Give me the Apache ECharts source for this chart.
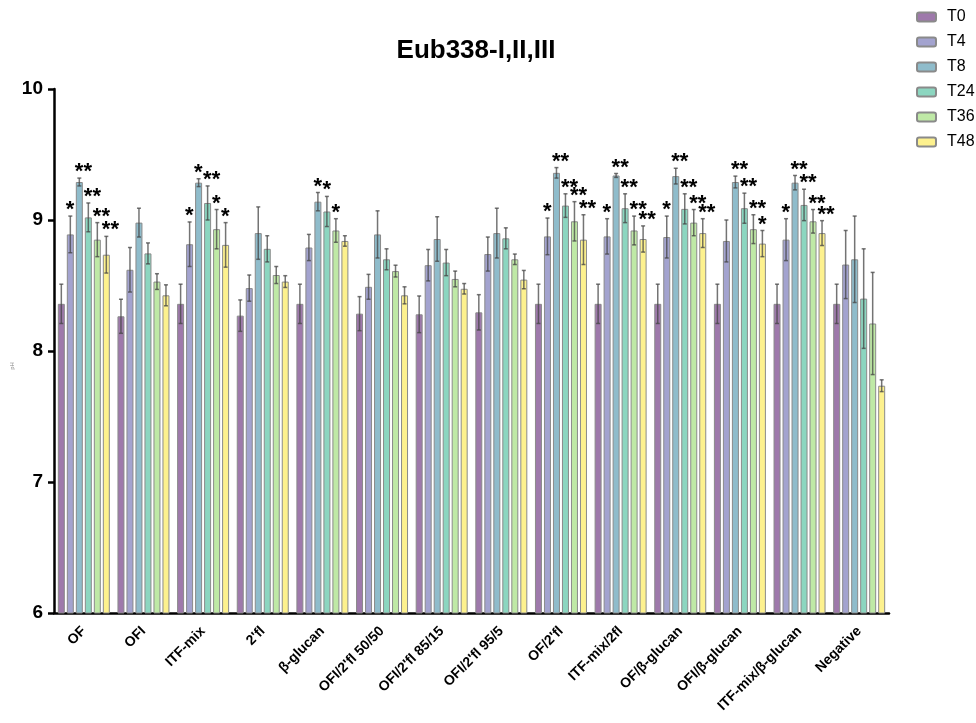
<!DOCTYPE html>
<html>
<head>
<meta charset="utf-8">
<script src="https://cdn.jsdelivr.net/npm/echarts@6/dist/echarts.min.js"></script>
<style>
  html, body { margin: 0; padding: 0; background: #fff; }
  #chart { width: 976px; height: 723px; }
</style>
</head>
<body>
<div id="chart"></div>
<script>
// Group names along the x axis
const categories = ['OF', 'OFI', 'ITF-mix', "2'fl", 'β-glucan', "OFI/2'fl 50/50", "OFI/2'fl 85/15",
  "OFI/2'fl 95/5", "OF/2'fl", 'ITF-mix/2fl', 'OF/β-glucan', 'OFI/β-glucan', 'ITF-mix/β-glucan', 'Negative'];

// Time points
const timeNames = ['T0', 'T4', 'T8', 'T24', 'T36', 'T48'];

// Means per time point
const t0 = [8.36, 8.265, 8.36, 8.27, 8.36, 8.285, 8.28, 8.295, 8.36, 8.36, 8.36, 8.36, 8.36, 8.36];
const t4 = [8.89, 8.62, 8.815, 8.48, 8.79, 8.49, 8.655, 8.74, 8.875, 8.875, 8.87, 8.84, 8.85, 8.66];
const t8 = [9.29, 8.98, 9.285, 8.90, 9.14, 8.89, 8.855, 8.90, 9.36, 9.34, 9.335, 9.29, 9.285, 8.70];
const t24 = [9.02, 8.745, 9.13, 8.78, 9.065, 8.70, 8.675, 8.86, 9.11, 9.09, 9.085, 9.09, 9.115, 8.40];
const t36 = [8.85, 8.53, 8.93, 8.58, 8.92, 8.61, 8.55, 8.70, 8.99, 8.92, 8.98, 8.93, 8.99, 8.21];
const t48 = [8.735, 8.425, 8.81, 8.53, 8.84, 8.425, 8.475, 8.545, 8.85, 8.855, 8.90, 8.82, 8.90, 7.735];

// Standard deviations per time point
const t0Err = [0.15, 0.13, 0.15, 0.12, 0.15, 0.13, 0.14, 0.135, 0.15, 0.15, 0.15, 0.15, 0.15, 0.15];
const t4Err = [0.14, 0.17, 0.17, 0.10, 0.10, 0.095, 0.12, 0.13, 0.14, 0.135, 0.16, 0.16, 0.16, 0.26];
const t8Err = [0.03, 0.11, 0.03, 0.20, 0.07, 0.18, 0.17, 0.19, 0.04, 0.015, 0.06, 0.045, 0.055, 0.33];
const t24Err = [0.11, 0.08, 0.13, 0.10, 0.115, 0.08, 0.10, 0.08, 0.09, 0.11, 0.115, 0.115, 0.12, 0.38];
const t36Err = [0.13, 0.06, 0.15, 0.065, 0.09, 0.045, 0.06, 0.04, 0.15, 0.11, 0.10, 0.11, 0.09, 0.39];
const t48Err = [0.14, 0.08, 0.17, 0.045, 0.04, 0.065, 0.04, 0.07, 0.19, 0.10, 0.11, 0.10, 0.095, 0.045];

// Significance marks versus T0
const t0Sig = ['', '', '', '', '', '', '', '', '', '', '', '', '', ''];
const t4Sig = ['*', '', '*', '', '', '', '', '', '*', '*', '*', '', '*', ''];
const t8Sig = ['**', '', '*', '', '*', '', '', '', '**', '**', '**', '**', '**', ''];
const t24Sig = ['**', '', '**', '', '*', '', '', '', '**', '**', '**', '**', '**', ''];
const t36Sig = ['**', '', '*', '', '*', '', '', '', '**', '**', '**', '**', '**', ''];
const t48Sig = ['**', '', '*', '', '', '', '', '', '**', '**', '**', '*', '**', ''];

// Y axis tick values
const yTicks = [6, 7, 8, 9, 10];

const means = [t0, t4, t8, t24, t36, t48];
const errs = [t0Err, t4Err, t8Err, t24Err, t36Err, t48Err];
const sigs = [t0Sig, t4Sig, t8Sig, t24Sig, t36Sig, t48Sig];

const colors = ['#9e79ab', '#a3a3cf', '#8fbccb', '#8cd6c0', '#bfe9a6', '#fdf18e'];
const FONT = "'Liberation Sans', Arial, sans-serif";
const BAR_W = 7;
const BAR_STEP = 9;

const chart = echarts.init(document.getElementById('chart'), null, { renderer: 'canvas' });

const series = [];
timeNames.forEach((name, s) => {
  series.push({
    name: name,
    type: 'bar',
    data: means[s],
    barWidth: BAR_W,
    barGap: ((BAR_STEP - BAR_W) / BAR_W * 100) + '%',
    itemStyle: { color: colors[s], borderColor: '#8a8a8a', borderWidth: 1 },
    z: 2
  });
});

// Error whiskers and significance stars, placed over each bar
timeNames.forEach((name, s) => {
  series.push({
    name: name,
    type: 'custom',
    data: means[s].map((m, i) => [i, m, errs[s][i]]),
    z: 5,
    renderItem: function (params, api) {
      const ci = api.value(0), m = api.value(1), e = api.value(2);
      const x = api.coord([ci, m])[0] + (s - 2.5) * BAR_STEP;
      const yTop = api.coord([ci, m + e])[1];
      const yBot = api.coord([ci, m - e])[1];
      const stroke = { stroke: 'rgba(70,70,70,0.75)', lineWidth: 1.5 };
      const children = [
        { type: 'line', shape: { x1: x, y1: yTop, x2: x, y2: yBot }, style: stroke },
        { type: 'line', shape: { x1: x - 2, y1: yTop, x2: x + 2, y2: yTop }, style: stroke },
        { type: 'line', shape: { x1: x - 2, y1: yBot, x2: x + 2, y2: yBot }, style: stroke }
      ];
      const mark = sigs[s][params.dataIndex];
      if (mark) {
        children.push({
          type: 'text',
          style: {
            text: mark, x: x - 4.5, y: yTop - 6,
            align: 'left', verticalAlign: 'middle',
            font: 'bold 22px ' + FONT, fill: '#000'
          }
        });
      }
      return { type: 'group', children: children };
    }
  });
});

chart.setOption({
  animation: false,
  backgroundColor: '#fff',
  title: {
    text: 'Eub338-I,II,III',
    left: 471, top: 33, textAlign: 'center',
    textStyle: { fontFamily: FONT, fontWeight: 'bold', fontSize: 26, color: '#000' }
  },
  legend: {
    data: timeNames,
    orient: 'vertical',
    left: 911, top: 4,
    itemWidth: 19, itemHeight: 9, itemGap: 9,
    textStyle: { fontFamily: FONT, fontSize: 16, color: '#000', padding: [0, 0, 0, 6] }
  },
  grid: { left: 54, right: 87, top: 89, bottom: 110 },
  xAxis: {
    type: 'category',
    data: categories,
    axisLine: { lineStyle: { color: '#000', width: 2.5 } },
    axisTick: { alignWithLabel: true, interval: 0, length: 6, lineStyle: { color: '#000', width: 2.5 } },
    axisLabel: {
      interval: 0, rotate: 45, margin: 16,
      fontFamily: FONT, fontWeight: 'bold', fontSize: 14, color: '#000'
    }
  },
  yAxis: {
    type: 'value',
    min: yTicks[0], max: yTicks[yTicks.length - 1], interval: 1,
    splitLine: { show: false },
    axisLine: { show: true, lineStyle: { color: '#000', width: 2.5 } },
    axisTick: { show: true, length: 6, lineStyle: { color: '#000', width: 2.5 } },
    axisLabel: { margin: 11, fontFamily: FONT, fontWeight: 'bold', fontSize: 19, color: '#000' }
  },
  graphic: [{
    type: 'text', x: 12, y: 366, rotation: Math.PI / 2,
    style: { text: 'pH', font: '6px ' + FONT, fill: '#888', align: 'center', verticalAlign: 'middle' }
  }],
  series: series
});
</script>
</body>
</html>
